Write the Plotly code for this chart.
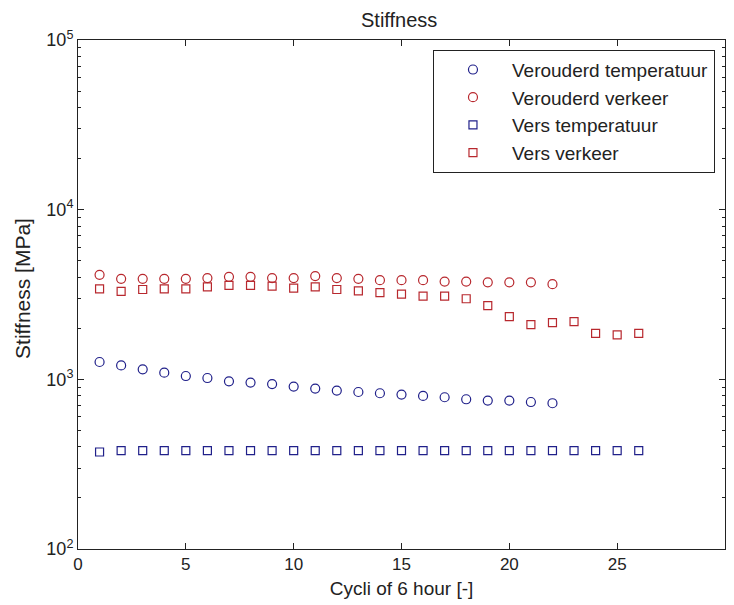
import plotly.graph_objects as go

# ---- data ----
cycles_old = list(range(1, 23))
cycles_new = list(range(1, 27))

verouderd_temperatuur = [1265, 1208, 1145, 1095, 1046, 1018, 973, 957, 938, 906, 882,
                         858, 842, 828, 813, 798, 784, 763, 750, 750, 735, 723]
verouderd_verkeer = [4130, 3910, 3910, 3910, 3910, 3950, 4020, 4020, 3950, 3950, 4060,
                     3950, 3910, 3840, 3840, 3840, 3770, 3770, 3730, 3730, 3730, 3640]
vers_temperatuur = [373, 380, 380, 380, 380, 380, 380, 380, 380, 380, 380, 380, 380,
                    380, 380, 380, 380, 380, 380, 380, 380, 380, 380, 380, 380, 380]
vers_verkeer = [3415, 3300, 3385, 3415, 3415, 3510, 3575, 3575, 3540, 3445, 3510, 3385,
                3325, 3240, 3175, 3090, 3090, 2985, 2720, 2340, 2100, 2160, 2190, 1865,
                1830, 1865]

x_ticks = [0, 5, 10, 15, 20, 25, 30]
y_ticks = [100, 1000, 10000, 100000]
y_ticktext = ["10<sup>2</sup>", "10<sup>3</sup>", "10<sup>4</sup>", "10<sup>5</sup>"]
y_minor = [m * 10 ** e for e in (2, 3, 4) for m in range(2, 10)]

BLUE = "#20208a"
RED = "#b8282e"
INK = "#222222"
FONT = "Liberation Sans, Arial, sans-serif"

fig = go.Figure()
fig.add_trace(go.Scatter(x=cycles_old, y=verouderd_temperatuur, mode="markers",
                         name="Verouderd temperatuur",
                         marker=dict(symbol="circle-open", size=9, color=BLUE, line=dict(width=1.2))))
fig.add_trace(go.Scatter(x=cycles_old, y=verouderd_verkeer, mode="markers",
                         name="Verouderd verkeer",
                         marker=dict(symbol="circle-open", size=9, color=RED, line=dict(width=1.2))))
fig.add_trace(go.Scatter(x=cycles_new, y=vers_temperatuur, mode="markers",
                         name="Vers temperatuur",
                         marker=dict(symbol="square-open", size=8, color=BLUE, line=dict(width=1.2))))
fig.add_trace(go.Scatter(x=cycles_new, y=vers_verkeer, mode="markers",
                         name="Vers verkeer",
                         marker=dict(symbol="square-open", size=8, color=RED, line=dict(width=1.2))))

fig.update_layout(
    width=734, height=605,
    margin=dict(l=78, r=9, t=40, b=56),
    paper_bgcolor="white", plot_bgcolor="white",
    font=dict(family=FONT, size=17, color=INK),
    showlegend=True,
    legend=dict(x=0.9845, xanchor="right", y=0.981, yanchor="top",
                bordercolor=INK, borderwidth=1, bgcolor="white",
                font=dict(family=FONT, size=19, color=INK), itemwidth=68),
    annotations=[
        dict(text="Stiffness", xref="paper", yref="paper", x=0.496, y=1.039,
             xanchor="center", yanchor="middle", showarrow=False,
             font=dict(family=FONT, size=20, color=INK)),
        dict(text="Stiffness [MPa]", xref="paper", yref="paper", x=-0.085, y=0.511,
             xanchor="center", yanchor="middle", showarrow=False, textangle=-90,
             font=dict(family=FONT, size=21, color=INK)),
    ],
)
fig.update_xaxes(
    range=[0, 30], tickvals=x_ticks, ticks="inside", ticklen=6, tickcolor=INK,
    tickfont=dict(family=FONT, size=17, color=INK),
    showline=True, linecolor=INK, linewidth=1, mirror="ticks",
    showgrid=False, zeroline=False,
    title=dict(text="Cycli of 6 hour [-]", standoff=8,
               font=dict(family=FONT, size=19, color=INK)),
)
fig.update_yaxes(
    type="log", range=[2, 5], tickvals=y_ticks, ticktext=y_ticktext,
    ticks="inside", ticklen=6, tickcolor=INK,
    tickfont=dict(family=FONT, size=18, color=INK),
    minor=dict(tickvals=y_minor, ticks="inside", ticklen=3, tickcolor=INK, showgrid=False),
    showline=True, linecolor=INK, linewidth=1, mirror="ticks",
    showgrid=False, zeroline=False,
)

fig.write_html("out.html")
